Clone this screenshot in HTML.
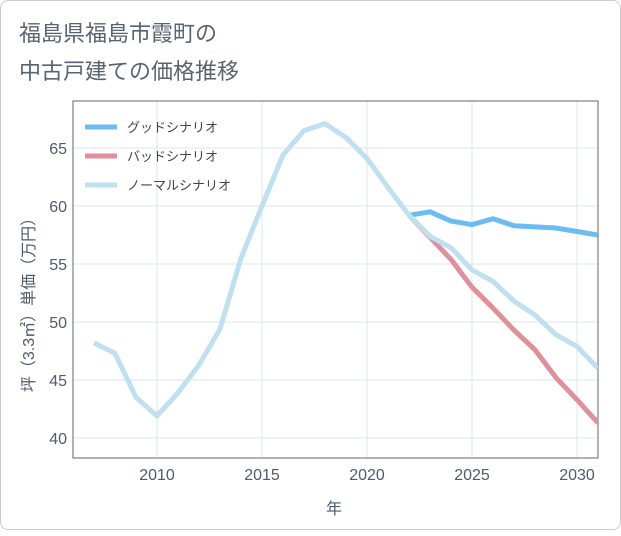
<!DOCTYPE html>
<html><head><meta charset="utf-8"><style>
body{margin:0;background:#fff;}
.card{position:absolute;left:0;top:0;width:619px;height:528px;border:1px solid #ccc;border-radius:8px;background:#fff;}
text{font-family:"Liberation Sans","Noto Sans CJK JP",sans-serif;}
</style></head><body>
<div class="card">
<svg id="chart" width="621" height="530">
<text x="18" y="40" font-size="22" fill="#5a6470">福島県福島市霞町の</text>
<text x="18" y="78" font-size="22" fill="#5a6470">中古戸建ての価格推移</text>
<g id="grid"></g><g id="series"></g><g id="legend"></g>
<text x="333" y="513" font-size="16" fill="#4d5b6a" text-anchor="middle">年</text>
<text transform="translate(33,300) rotate(-90)" font-size="16" fill="#4d5b6a" text-anchor="middle">坪（3.3㎡）単価（万円）</text>
</svg></div>
<script>
const years=[2007,2008,2009,2010,2011,2012,2013,2014,2015,2016,2017,2018,2019,2020,2021,2022,2023,2024,2025,2026,2027,2028,2029,2030,2031];
const normalVals=[48.2,47.3,43.5,41.9,43.9,46.3,49.4,55.5,60.0,64.4,66.5,67.1,65.9,64.1,61.6,59.2,57.4,56.4,54.5,53.5,51.8,50.6,48.9,47.9,46.0];
const futureYears=[2022,2023,2024,2025,2026,2027,2028,2029,2030,2031];
const goodVals=[59.2,59.5,58.7,58.4,58.9,58.3,58.2,58.1,57.8,57.5];
const badVals=[59.2,57.3,55.4,53.0,51.2,49.3,47.6,45.2,43.3,41.3];
const xTicks=[2010,2015,2020,2025,2030];
const yTicks=[40,45,50,55,60,65];
const legendLabels=["グッドシナリオ","バッドシナリオ","ノーマルシナリオ"];
const colors=["#6bbcf0","#e0909a","#bfe0ee"];
const NS="http://www.w3.org/2000/svg";
const L=72,R=597,T=100,B=457;
const xs=y=>156+(y-2010)*21;
const ys=v=>437-(v-40)*11.6;
function mk(t,a,p){const e=document.createElementNS(NS,t);for(const k in a)e.setAttribute(k,a[k]);p.appendChild(e);return e;}
const g=document.getElementById('grid');
xTicks.forEach(t=>{const l=mk('line',{x1:xs(t),x2:xs(t),y1:T,y2:B,stroke:'#dde6ea'},g);

const tx=mk('text',{x:xs(t),y:B+22,'font-size':16,fill:'#4d5b6a','text-anchor':'middle'},g);tx.textContent=t;
});
yTicks.forEach(t=>{const l=mk('line',{x1:L,x2:R,y1:ys(t),y2:ys(t),stroke:'#dde6ea'},g);

const tx=mk('text',{x:L-6,y:ys(t)+6,'font-size':16,fill:'#4d5b6a','text-anchor':'end'},g);tx.textContent=t;
});
const fr=mk('rect',{x:L,y:T,width:R-L,height:B-T,fill:'none',stroke:'#666','stroke-width':1},g);

const s=document.getElementById('series');
const clip=mk('clipPath',{id:'cp'},s);mk('rect',{x:L,y:T,width:R-L,height:B-T},clip);
function line(xv,yv,c,name){const p=mk('polyline',{points:xv.map((x,i)=>xs(x)+','+ys(yv[i])).join(' '),fill:'none',stroke:c,'stroke-width':5,'stroke-linejoin':'round','clip-path':'url(#cp)'},s);
}
line(futureYears,goodVals,colors[0],'good-scenario-line');
line(futureYears,badVals,colors[1],'bad-scenario-line');
line(years,normalVals,colors[2],'normal-scenario-line');
const lg=document.getElementById('legend');
legendLabels.forEach((lb,i)=>{const y=126+i*29;
const l=mk('line',{x1:84,x2:116,y1:y,y2:y,stroke:colors[i],'stroke-width':5},lg);

const t=mk('text',{x:126,y:y+5,'font-size':13,fill:'#444'},lg);t.textContent=lb;
});
</script></body></html>
